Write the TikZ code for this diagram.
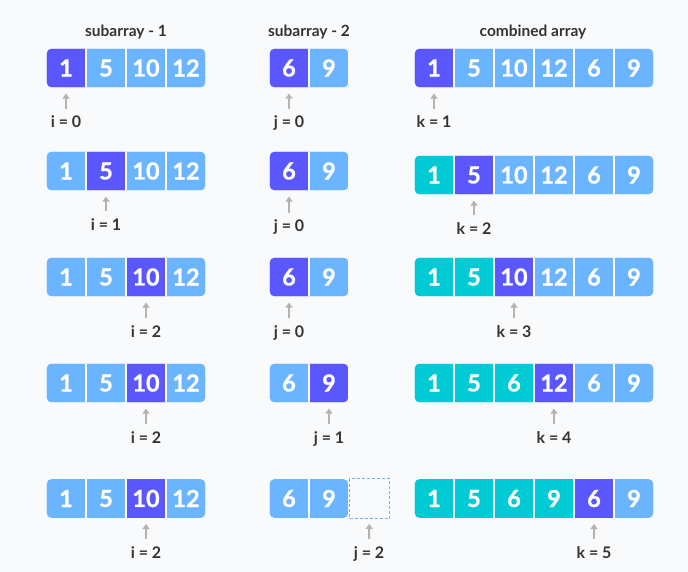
\documentclass[tikz,border=0pt]{standalone}
\usepackage{fontspec}
\setmainfont{Lato}
\usepackage{tikz}
\usetikzlibrary{arrows.meta}

\definecolor{bgc}{HTML}{F9FAFC}
\definecolor{dark}{HTML}{5B57FF}
\definecolor{lite}{HTML}{6BB4FF}
\definecolor{done}{HTML}{00CBD5}
\definecolor{ink}{HTML}{333333}
\definecolor{grayarrow}{HTML}{B3B3B3}

\tikzset{
  cell/.style={minimum size=40pt, inner sep=0pt, draw=white, line width=1.2pt,
    text=white, font=\fontsize{23.5}{25}\selectfont\bfseries\addfontfeature{FakeBold=1}},
  dk/.style={fill=dark}, lt/.style={fill=lite}, dn/.style={fill=done},
  empty/.style={minimum size=40pt, inner sep=0pt, draw=lite, line width=0.8pt,
    dash pattern=on 3pt off 2pt},
  lbl/.style={inner sep=0pt, text height=11pt, text depth=0pt, text=ink,
    font=\fontsize{16}{18}\selectfont\bfseries},
  title/.style={inner sep=0pt, text=ink, font=\fontsize{15.5}{18}\selectfont\bfseries},
  ptr/.style={draw=grayarrow, line width=2pt, -{Triangle[length=5pt,width=7pt]},
    shorten <=8pt, shorten >=5pt}
}

\begin{document}
\begin{tikzpicture}[x=1pt,y=-1pt]
  \fill[bgc] (0,0) rectangle (688,572);
  \useasboundingbox (0,0) rectangle (688,572);

  \node[title] (t1) at (126,32) {subarray - 1};
  \node[title] (t2) at (309,32) {subarray - 2};
  \node[title] (t3) at (533,32) {combined array};

  % step 1
  \begin{scope}
    \clip[rounded corners=5] (46.6,48.6) rectangle (205.4,87.4);
    \foreach \v/\c [count=\n] in {1/dk,5/lt,10/lt,12/lt}
      \node[cell,\c] (a1-\n) at (26+40*\n,68) {\v};
  \end{scope}
  \begin{scope}
    \clip[rounded corners=5] (269.6,48.6) rectangle (348.4,87.4);
    \foreach \v/\c [count=\n] in {6/dk,9/lt}
      \node[cell,\c] (b1-\n) at (249+40*\n,68) {\v};
  \end{scope}
  \begin{scope}
    \clip[rounded corners=5] (414.6,48.6) rectangle (653.4,87.4);
    \foreach \v/\c [count=\n] in {1/dk,5/lt,10/lt,12/lt,6/lt,9/lt}
      \node[cell,\c] (c1-\n) at (394+40*\n,68) {\v};
  \end{scope}
  \node[lbl] (la1) at (66,122.5) {i = 0};
  \node[lbl] (lb1) at (289,122.5) {j = 0};
  \node[lbl] (lc1) at (434,122.5) {k = 1};
  \draw[ptr] (la1) -- (a1-1);
  \draw[ptr] (lb1) -- (b1-1);
  \draw[ptr] (lc1) -- (c1-1);

  % step 2
  \begin{scope}
    \clip[rounded corners=5] (46.6,151.6) rectangle (205.4,190.4);
    \foreach \v/\c [count=\n] in {1/lt,5/dk,10/lt,12/lt}
      \node[cell,\c] (a2-\n) at (26+40*\n,171) {\v};
  \end{scope}
  \begin{scope}
    \clip[rounded corners=5] (269.6,151.6) rectangle (348.4,190.4);
    \foreach \v/\c [count=\n] in {6/dk,9/lt}
      \node[cell,\c] (b2-\n) at (249+40*\n,171) {\v};
  \end{scope}
  \begin{scope}
    \clip[rounded corners=5] (414.6,155.6) rectangle (653.4,194.4);
    \foreach \v/\c [count=\n] in {1/dn,5/dk,10/lt,12/lt,6/lt,9/lt}
      \node[cell,\c] (c2-\n) at (394+40*\n,175) {\v};
  \end{scope}
  \node[lbl] (la2) at (106,225) {i = 1};
  \node[lbl] (lb2) at (289,226.5) {j = 0};
  \node[lbl] (lc2) at (474,228.5) {k = 2};
  \draw[ptr] (la2) -- (a2-2);
  \draw[ptr] (lb2) -- (b2-1);
  \draw[ptr] (lc2) -- (c2-2);

  % step 3
  \begin{scope}
    \clip[rounded corners=5] (46.6,257.6) rectangle (205.4,296.4);
    \foreach \v/\c [count=\n] in {1/lt,5/lt,10/dk,12/lt}
      \node[cell,\c] (a3-\n) at (26+40*\n,277) {\v};
  \end{scope}
  \begin{scope}
    \clip[rounded corners=5] (269.6,257.6) rectangle (348.4,296.4);
    \foreach \v/\c [count=\n] in {6/dk,9/lt}
      \node[cell,\c] (b3-\n) at (249+40*\n,277) {\v};
  \end{scope}
  \begin{scope}
    \clip[rounded corners=5] (414.6,257.6) rectangle (653.4,296.4);
    \foreach \v/\c [count=\n] in {1/dn,5/dn,10/dk,12/lt,6/lt,9/lt}
      \node[cell,\c] (c3-\n) at (394+40*\n,277) {\v};
  \end{scope}
  \node[lbl] (la3) at (146,331.5) {i = 2};
  \node[lbl] (lb3) at (289,331.5) {j = 0};
  \node[lbl] (lc3) at (514,331.5) {k = 3};
  \draw[ptr] (la3) -- (a3-3);
  \draw[ptr] (lb3) -- (b3-1);
  \draw[ptr] (lc3) -- (c3-3);

  % step 4
  \begin{scope}
    \clip[rounded corners=5] (46.6,363.6) rectangle (205.4,402.4);
    \foreach \v/\c [count=\n] in {1/lt,5/lt,10/dk,12/lt}
      \node[cell,\c] (a4-\n) at (26+40*\n,383) {\v};
  \end{scope}
  \begin{scope}
    \clip[rounded corners=5] (269.6,363.6) rectangle (348.4,402.4);
    \foreach \v/\c [count=\n] in {6/lt,9/dk}
      \node[cell,\c] (b4-\n) at (249+40*\n,383) {\v};
  \end{scope}
  \begin{scope}
    \clip[rounded corners=5] (414.6,363.6) rectangle (653.4,402.4);
    \foreach \v/\c [count=\n] in {1/dn,5/dn,6/dn,12/dk,6/lt,9/lt}
      \node[cell,\c] (c4-\n) at (394+40*\n,383) {\v};
  \end{scope}
  \node[lbl] (la4) at (146,437.5) {i = 2};
  \node[lbl] (lb4) at (329,437.5) {j = 1};
  \node[lbl] (lc4) at (554,437.5) {k = 4};
  \draw[ptr] (la4) -- (a4-3);
  \draw[ptr] (lb4) -- (b4-2);
  \draw[ptr] (lc4) -- (c4-4);

  % step 5
  \begin{scope}
    \clip[rounded corners=5] (46.6,479.1) rectangle (205.4,517.9);
    \foreach \v/\c [count=\n] in {1/lt,5/lt,10/dk,12/lt}
      \node[cell,\c] (a5-\n) at (26+40*\n,498.5) {\v};
  \end{scope}
  \begin{scope}
    \clip[rounded corners=5] (269.6,479.1) rectangle (348.4,517.9);
    \foreach \v/\c [count=\n] in {6/lt,9/lt}
      \node[cell,\c] (b5-\n) at (249+40*\n,498.5) {\v};
  \end{scope}
  \node[empty] (b5-3) at (369.5,498.5) {};
  \begin{scope}
    \clip[rounded corners=5] (414.6,479.1) rectangle (653.4,517.9);
    \foreach \v/\c [count=\n] in {1/dn,5/dn,6/dn,9/dn,6/dk,9/lt}
      \node[cell,\c] (c5-\n) at (394+40*\n,498.5) {\v};
  \end{scope}
  \node[lbl] (la5) at (146,552.5) {i = 2};
  \node[lbl] (lb5) at (369,552.5) {j = 2};
  \node[lbl] (lc5) at (594,552.5) {k = 5};
  \draw[ptr] (la5) -- (a5-3);
  \draw[ptr] (lb5) -- (b5-3);
  \draw[ptr] (lc5) -- (c5-5);
\end{tikzpicture}
\end{document}
